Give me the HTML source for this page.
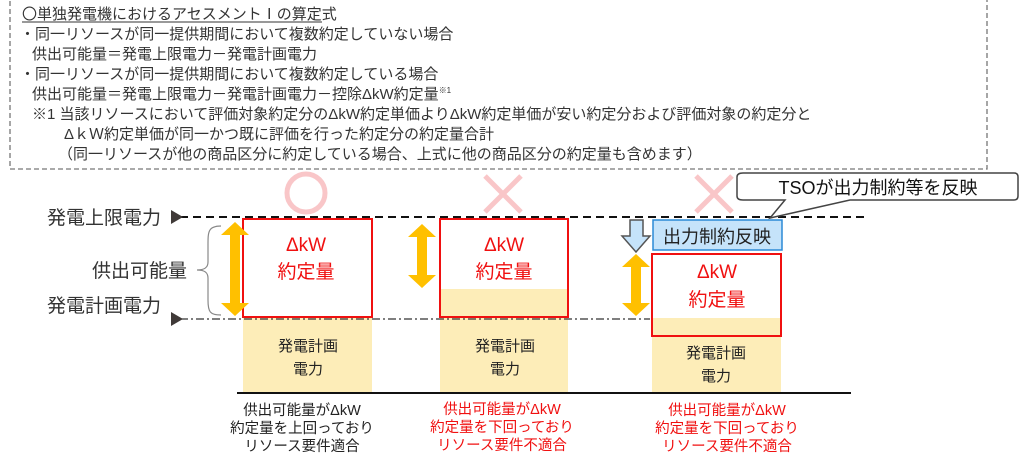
<!DOCTYPE html>
<html><head><meta charset="utf-8"><style>
body{margin:0;background:#fff;}
svg{display:block;font-family:"Liberation Sans","Noto Sans CJK JP",sans-serif;}
</style></head><body>
<svg width="1024" height="456" viewBox="0 0 1024 456" xmlns="http://www.w3.org/2000/svg">
<rect x="10" y="-2" width="977" height="171" fill="none" stroke="#777" stroke-width="1.3" stroke-dasharray="5,3"/>
<g font-size="15" fill="#333">
<text x="22" y="19">〇単独発電機におけるアセスメントⅠの算定式</text>
<line x1="22" y1="22" x2="322" y2="22" stroke="#333" stroke-width="1"/>
<text x="20" y="39">・同一リソースが同一提供期間において複数約定していない場合</text>
<text x="32" y="59">供出可能量＝発電上限電力－発電計画電力</text>
<text x="20" y="79">・同一リソースが同一提供期間において複数約定している場合</text>
<text x="32" y="99">供出可能量＝発電上限電力－発電計画電力－控除ΔkW約定量<tspan font-size="8" dy="-6">※1</tspan></text>
<text x="32" y="119">※1 当該リソースにおいて評価対象約定分のΔkW約定単価よりΔkW約定単価が安い約定分および評価対象の約定分と</text>
<text x="64" y="139">ΔｋＷ約定単価が同一かつ既に評価を行った約定分の約定量合計</text>
<text x="58" y="159">（同一リソースが他の商品区分に約定している場合、上式に他の商品区分の約定量も含めます）</text>
</g>
<circle cx="306" cy="193" r="19" fill="none" stroke="#f9c6c8" stroke-width="5"/>
<g stroke="#f9c6c8" stroke-width="5"><line x1="485" y1="176" x2="521" y2="212"/><line x1="521" y1="176" x2="485" y2="212"/>
<line x1="696" y1="176" x2="732" y2="212"/><line x1="732" y1="176" x2="696" y2="212"/></g>
<rect x="243" y="317" width="129" height="76" fill="#fdedb8"/>
<rect x="440" y="289" width="128" height="104" fill="#fdedb8"/>
<rect x="652" y="318" width="129" height="75" fill="#fdedb8"/>
<line x1="180" y1="217" x2="866" y2="217" stroke="#111" stroke-width="2" stroke-dasharray="8,5"/>
<line x1="180" y1="319" x2="650" y2="319" stroke="#333" stroke-width="1.3" stroke-dasharray="8,3,2,3"/>
<polygon points="171,210 183,217 171,224" fill="#403a38"/>
<polygon points="171,312 183,319 171,326" fill="#403a38"/>
<line x1="237" y1="393" x2="851" y2="393" stroke="#111" stroke-width="2"/>
<rect x="243" y="219" width="129" height="98" fill="none" stroke="#f01010" stroke-width="2"/>
<rect x="440" y="219" width="128" height="98" fill="none" stroke="#f01010" stroke-width="2"/>
<rect x="652" y="254" width="129" height="82" fill="none" stroke="#f01010" stroke-width="2"/>
<rect x="653" y="220" width="129" height="30" fill="#c5e3fa" stroke="#2b8ad6" stroke-width="1.5"/>
<text x="717" y="243" font-size="18" text-anchor="middle" fill="#222">出力制約反映</text>
<g fill="#ffc000">
<polygon points="235,222 249,235 240,235 240,303 249,303 235,316 221,303 230,303 230,235 221,235"/>
<polygon points="422,224 436,237 427,237 427,275 436,275 422,288 408,275 417,275 417,237 408,237"/>
<polygon points="636,254 650,267 641,267 641,303 650,303 636,316 622,303 631,303 631,267 622,267"/>
</g>
<polygon points="630,220 643,220 643,236 650,236 636,252 622,236 630,236" fill="#c5e3fa" stroke="#555" stroke-width="1.5"/>
<path d="M221,226 C208,226 208,232 208,245 L208,262 C208,268 204,270 197,270 C204,270 208,272 208,278 L208,300 C208,312 210,315 221,315" fill="none" stroke="#888" stroke-width="1.2"/>
<path d="M743,173 H1014 Q1018,173 1018,177 V196 Q1018,200 1014,200 H850 L770,218 L785,200 H743 Q737,200 737,196 V177 Q737,173 743,173 Z" fill="#fff" stroke="#444" stroke-width="1.5"/>
<text x="878" y="194" font-size="18" text-anchor="middle" fill="#111">TSOが出力制約等を反映</text>
<g font-size="19" fill="#333">
<text x="47" y="224">発電上限電力</text>
<text x="92" y="277">供出可能量</text>
<text x="47" y="312">発電計画電力</text>
</g>
<g font-size="19" fill="#f01010" text-anchor="middle">
<text x="306" y="251">ΔkW</text><text x="306" y="278">約定量</text>
<text x="504" y="251">ΔkW</text><text x="504" y="278">約定量</text>
<text x="717" y="278">ΔkW</text><text x="717" y="306">約定量</text>
</g>
<g font-size="15" fill="#222" text-anchor="middle">
<text x="308" y="351">発電計画</text><text x="308" y="374">電力</text>
<text x="505" y="351">発電計画</text><text x="505" y="374">電力</text>
<text x="716" y="358">発電計画</text><text x="716" y="381">電力</text>
</g>
<g font-size="14.5" text-anchor="middle">
<g fill="#222"><text x="302" y="415">供出可能量がΔkW</text><text x="302" y="433">約定量を上回っており</text><text x="302" y="451">リソース要件適合</text></g>
<g fill="#f01010"><text x="502" y="414">供出可能量がΔkW</text><text x="502" y="432">約定量を下回っており</text><text x="502" y="450">リソース要件不適合</text></g>
<g fill="#f01010"><text x="727" y="415">供出可能量がΔkW</text><text x="727" y="433">約定量を下回っており</text><text x="727" y="451">リソース要件不適合</text></g>
</g>
</svg>
</body></html>
